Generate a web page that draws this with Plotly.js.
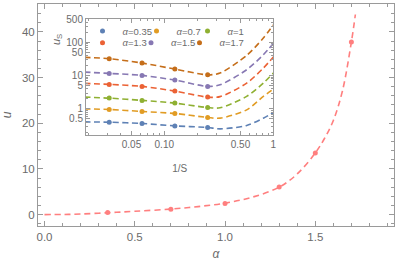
<!DOCTYPE html>
<html>
<head>
<meta charset="utf-8">
<script src="https://cdn.plot.ly/plotly-3.0.1.min.js"></script>
<style>html,body{margin:0;padding:0;background:#fff;}#chart{width:400px;height:265px;}</style>
</head>
<body>
<div id="chart"></div>
<script>
// ---- main panel data ----
const alphaPts = [0.35, 0.7, 1.0, 1.3, 1.5, 1.7];
const uPts = [0.44, 1.15, 2.45, 6.05, 13.5, 37.8];
const alphaFit = [0, 0.1, 0.2, 0.35, 0.5, 0.7, 0.85, 1.0, 1.15, 1.3, 1.4, 1.5, 1.55, 1.6, 1.65, 1.7, 1.722];
const uFit = [0, 0.02, 0.12, 0.4, 0.72, 1.2, 1.75, 2.5, 3.8, 6.0, 8.9, 13.5, 16.6, 20.6, 27.0, 37.8, 43.8];

// ---- inset data ----
const invS = [0.03125, 0.0625, 0.125, 0.25];
const invSFit = [0.0185, 0.03125, 0.0625, 0.125, 0.25, 0.325, 0.57, 0.81, 1.0];
const seriesNames = ['α=0.35', 'α=0.7', 'α=1', 'α=1.3', 'α=1.5', 'α=1.7'];
const seriesColors = ['#5E81B5', '#E19C24', '#8FB032', '#EB6235', '#8778B3', '#C56E1A'];
const usPts = [
  [0.397, 0.363, 0.307, 0.275],
  [0.96, 0.836, 0.727, 0.551],
  [2.11, 1.80, 1.49, 1.10],
  [5.46, 4.75, 3.43, 2.26],
  [11.7, 10.2, 7.36, 4.75],
  [32.4, 24.0, 15.8, 10.6]
];
const usFit = [
  [0.405, 0.397, 0.363, 0.307, 0.275, 0.249, 0.316, 0.525, 0.769],
  [1.00, 0.96, 0.836, 0.727, 0.551, 0.525, 0.933, 2.37, 3.94],
  [2.26, 2.11, 1.80, 1.49, 1.10, 1.08, 2.37, 5.97, 11.97],
  [5.85, 5.46, 4.75, 3.43, 2.26, 2.34, 5.97, 16.9, 36.4],
  [12.8, 11.7, 10.2, 7.36, 4.75, 5.31, 15.1, 42.7, 93.1],
  [35.6, 32.4, 24.0, 15.8, 10.6, 12.0, 40.9, 136, 336]
];
const legendRow = ['legend', 'legend', 'legend', 'legend2', 'legend2', 'legend2'];
const legendW = [9, 6, 20, 3.5, 3.5, 20];

const mainTicksX = [0, 0.5, 1, 1.5];
const mainTickTextX = ['0.0', '0.5', '1.0', '1.5'];
const mainTicksY = [0, 10, 20, 30, 40];
const insetTicksX = [0.05, 0.1, 0.5, 1];
const insetTickTextX = ['0.05', '0.10', '0.50', '1'];
const insetTicksY = [0.5, 1, 5, 10, 50, 100, 500];
const insetTickTextY = ['0.5', '1', '5', '10', '50', '100', '500'];

const minorX = []; for (let i = 0; i <= 19; i++) minorX.push(+(i * 0.1).toFixed(1));
const minorY = []; for (let i = -2; i <= 46; i += 2) minorY.push(i);
const minorLogX = [0.02, 0.03, 0.04, 0.06, 0.07, 0.08, 0.09, 0.2, 0.3, 0.4, 0.6, 0.7, 0.8, 0.9];
const minorLogY = [0.2, 0.3, 0.4, 0.6, 0.7, 0.8, 0.9, 2, 3, 4, 6, 7, 8, 9, 20, 30, 40, 60, 70, 80, 90, 200, 300, 400];

const pink = '#ff7f7f';
const frame = '#9a9a9a';
const tickFontColor = '#6b6b6b';
const fam = 'Liberation Sans, Arial, sans-serif';

const traces = [];
traces.push({x: alphaFit, y: uFit, mode: 'lines', line: {color: pink, width: 1.6, dash: '6px,4px', shape: 'spline'}, showlegend: false, hoverinfo: 'skip'});
traces.push({x: alphaPts, y: uPts, mode: 'markers', marker: {color: pink, size: 5}, showlegend: false});

for (let k = 0; k < seriesNames.length; k++) {
  traces.push({x: invSFit, y: usFit[k], xaxis: 'x2', yaxis: 'y2', mode: 'lines',
    line: {color: seriesColors[k], width: 1.6, dash: '6px,3.5px', shape: 'spline', smoothing: 0.8}, showlegend: false, hoverinfo: 'skip'});
}
for (let k = 0; k < seriesNames.length; k++) {
  traces.push({x: invS, y: usPts[k], xaxis: 'x2', yaxis: 'y2', mode: 'markers',
    marker: {color: seriesColors[k], size: 5}, name: '<i>α</i>' + seriesNames[k].slice(1),
    legend: legendRow[k], legendwidth: legendW[k]});
}

const axBase = {showline: true, linecolor: frame, linewidth: 1, mirror: 'ticks', ticks: 'inside',
  tickcolor: frame, ticklen: 5, showgrid: false, zeroline: false,
  tickfont: {family: fam, size: 11.5, color: tickFontColor}};

const layout = {
  width: 400, height: 265,
  margin: {l: 38, r: 6, t: 4, b: 39.3},
  paper_bgcolor: '#fff', plot_bgcolor: '#fff',
  font: {family: fam, color: tickFontColor},
  xaxis: Object.assign({}, axBase, {range: [-0.036, 1.936], tickvals: mainTicksX, ticktext: mainTickTextX,
    minor: {tickvals: minorX, ticks: 'inside', ticklen: 3, tickcolor: frame},
    title: {text: '<i>α</i>', font: {family: fam, size: 12, color: tickFontColor}, standoff: 7}}),
  yaxis: Object.assign({}, axBase, {range: [-2.5, 46.1], tickvals: mainTicksY,
    minor: {tickvals: minorY, ticks: 'inside', ticklen: 3, tickcolor: frame},
    title: {text: '<i>u</i>', font: {family: fam, size: 12, color: tickFontColor}, standoff: 8}}),
  xaxis2: Object.assign({}, axBase, {type: 'log', range: [-1.718, 0], domain: [0.1348, 0.661], anchor: 'y2',
    tickvals: insetTicksX, ticktext: insetTickTextX, ticklen: 4,
    tickfont: {family: fam, size: 10, color: tickFontColor},
    minor: {tickvals: minorLogX, ticks: 'inside', ticklen: 2, tickcolor: frame},
    title: {text: '1/S', font: {family: fam, size: 10, color: tickFontColor}, standoff: 15}}),
  yaxis2: Object.assign({}, axBase, {type: 'log', range: [-0.793, 2.717], domain: [0.409, 0.934], anchor: 'x2',
    tickvals: insetTicksY, ticktext: insetTickTextY, ticklen: 4,
    tickfont: {family: fam, size: 10, color: tickFontColor},
    minor: {tickvals: minorLogY, ticks: 'inside', ticklen: 2, tickcolor: frame}}),
  legend: {orientation: 'h', x: 0.125, y: 0.878, xanchor: 'left', yanchor: 'middle', bgcolor: 'rgba(0,0,0,0)',
    font: {family: fam, size: 9.5, color: tickFontColor}, itemwidth: 30, tracegroupgap: 0},
  legend2: {orientation: 'h', x: 0.125, y: 0.826, xanchor: 'left', yanchor: 'middle', bgcolor: 'rgba(0,0,0,0)',
    font: {family: fam, size: 9.5, color: tickFontColor}, itemwidth: 30, tracegroupgap: 0},
  annotations: [{text: '<i>u</i><sub>S</sub>', x: (57 - 38) / 356, y: (225.7 - 40) / 221.7, xref: 'paper', yref: 'paper',
    xanchor: 'center', yanchor: 'middle', showarrow: false,
    textangle: -90, font: {family: fam, size: 11, color: tickFontColor}}],
  showlegend: true
};

Plotly.newPlot('chart', traces, layout, {displayModeBar: false, staticPlot: true});
</script>
</body>
</html>
